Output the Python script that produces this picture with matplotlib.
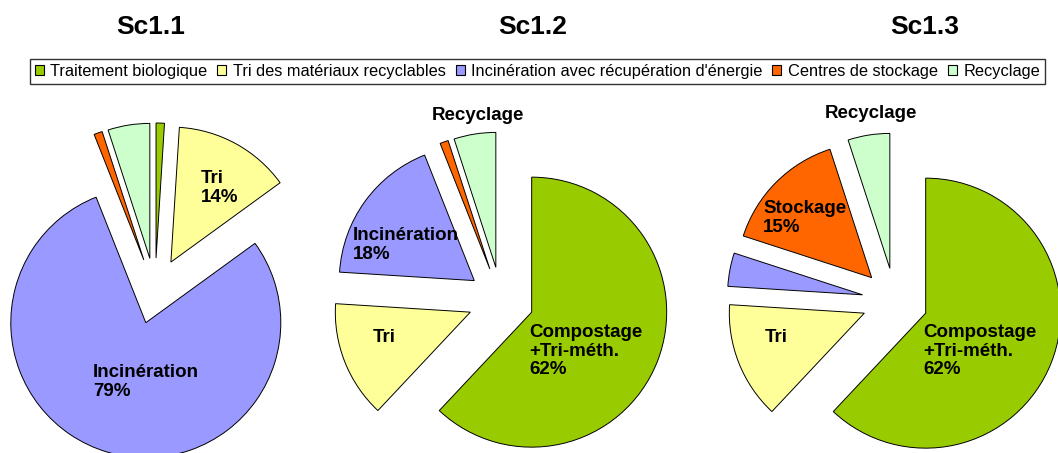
import matplotlib.pyplot as plt
from matplotlib.patches import Patch

plt.rcParams['font.family'] = ['Liberation Sans', 'DejaVu Sans']

# data
categories = ["Traitement biologique", "Tri des matériaux recyclables",
              "Incinération avec récupération d'énergie", "Centres de stockage",
              "Recyclage"]
colors = ["#99CC00", "#FFFF99", "#9999FF", "#FF6600", "#CCFFCC"]
scenarios = ["Sc1.1", "Sc1.2", "Sc1.3"]
sc11 = [1, 14, 79, 1, 5]
sc12 = [62, 14, 18, 1, 5]
sc13 = [62, 14, 4, 15, 5]

W, H = 1058, 453
fig = plt.figure(figsize=(W / 100, H / 100), dpi=100)
ax = fig.add_axes([0, 0, 1, 1])

radius = 135
explode = [33] * 5
# pie centres in pixel space (y from top)
centres = [(155, 291), (501, 300), (895, 301)]

for vals, (cx, cy) in zip([sc11, sc12, sc13], centres):
    ax.pie(vals, colors=colors, radius=radius, center=(cx, H - cy),
           explode=explode, startangle=90, counterclock=False,
           wedgeprops=dict(edgecolor='black', linewidth=0.7))

ax.set_xlim(0, W)
ax.set_ylim(0, H)
ax.set_aspect('equal')
ax.axis('off')

# titles
for name, x in zip(scenarios, [151, 533, 925]):
    ax.text(x, H - 27, name, ha='center', va='center', fontsize=19, fontweight='bold')

# slice labels
lab = dict(fontsize=13.5, fontweight='bold', va='center', ha='left', linespacing=1.15)
ax.text(201, H - 188, "Tri\n14%", **lab)
ax.text(93, H - 382, "Incinération\n79%", **lab)

ax.text(478, H - 116, "Recyclage", **{**lab, 'ha': 'center'})
ax.text(353, H - 245, "Incinération\n18%", **lab)
ax.text(373, H - 338, "Tri", **lab)
ax.text(529, H - 351, "Compostage\n+Tri-méth.\n62%", **lab)

ax.text(871, H - 114, "Recyclage", **{**lab, 'ha': 'center'})
ax.text(763, H - 218, "Stockage\n15%", **lab)
ax.text(765, H - 338, "Tri", **lab)
ax.text(923, H - 351, "Compostage\n+Tri-méth.\n62%", **lab)

# legend
handles = [Patch(facecolor=c, edgecolor='black', linewidth=0.8) for c in colors]
fig.legend(handles, categories, loc='center', bbox_to_anchor=(537.5 / W, 1 - 71.5 / H),
           ncol=5, fontsize=11.8, frameon=True, fancybox=False, edgecolor='black',
           handlelength=0.55, handleheight=0.55, handletextpad=0.4, columnspacing=0.6,
           borderpad=0.3, borderaxespad=0)

fig.savefig("out.png", dpi=100)
